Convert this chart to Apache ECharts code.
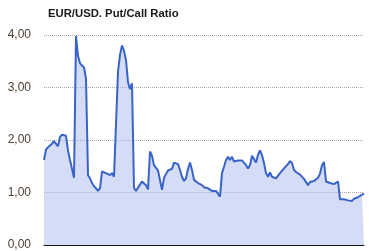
<!DOCTYPE html>
<html><head><meta charset="utf-8">
<script src="https://cdn.jsdelivr.net/npm/echarts@6/dist/echarts.min.js"></script>
<style>html,body{margin:0;padding:0;background:#fff}#c{width:369px;height:251px}</style>
</head><body><div id="c"></div>
<script>
var titleText = "EUR/USD. Put/Call Ratio";
var yTicks = [0, 1, 2, 3, 4];
var ratio = [
1.62,1.82,1.86,1.87,1.93,1.98,2.00,1.88,2.06,2.10,
2.13,2.08,1.80,1.62,1.45,1.28,3.98,3.60,3.46,3.42,
3.38,3.17,1.33,1.27,1.18,1.12,1.08,1.03,1.08,1.40,
1.40,1.37,1.40,1.33,1.37,1.30,1.33,3.30,3.62,3.80,
3.70,3.52,3.10,2.97,3.08,1.09,1.03,1.04,1.15,1.21,
1.21,1.14,1.06,1.78,1.70,1.52,1.47,1.42,1.43,1.05,
1.28,1.35,1.42,1.42,1.45,1.57,1.60,1.54,1.43,1.30,
1.22,1.27,1.45,1.57,1.43,1.24,1.21,1.18,1.16,1.14,
1.10,1.11,1.08,1.06,1.03,1.06,1.03,1.06,0.92,1.37,
1.49,1.62,1.68,1.62,1.68,1.59,1.62,1.61,1.59,1.61,
1.59,1.52,1.46,1.52,1.70,1.72,1.57,1.72,1.80,1.71,
1.56,1.37,1.30,1.38,1.30,1.27,1.27,1.30,1.37,1.40,
1.46,1.50,1.54,1.60,1.56,1.43,1.39,1.37,1.34,1.31,
1.26,1.27,1.14,1.20,1.22,1.22,1.24,1.28,1.36,1.52,
1.58,1.21,1.19,1.18,1.19,1.16,1.18,1.21,0.87,0.88,
0.87,0.88,0.85,0.83,0.84,0.88,0.90,0.91,0.93,0.96,
0.98
];
var categories = ratio.map(function(_, i){ return String(i + 1); });

var chart = echarts.init(document.getElementById('c'), null, {renderer:'canvas'});
chart.setOption({
  animation: false,
  title: {
    text: titleText, left: 43, top: 3,
    textStyle: {fontFamily: 'Liberation Sans, Arial, sans-serif', fontSize: 11.3, fontWeight: 'bold', color: '#1a1a1a'}
  },
  grid: {left: 44, right: 5, top: 35, bottom: 6, containLabel: false},
  xAxis: {
    type: 'category', data: categories, boundaryGap: false,
    axisLine: {show: true, lineStyle: {color: '#111', width: 1}},
    axisTick: {show: false}, axisLabel: {show: false}, splitLine: {show: false}
  },
  yAxis: {
    type: 'value', min: yTicks[0], max: yTicks[yTicks.length - 1], interval: 1,
    axisLine: {show: false}, axisTick: {show: false},
    axisLabel: {
      margin: 13, fontSize: 12, color: '#4d4033',
      fontFamily: 'Liberation Sans, Arial, sans-serif',
      formatter: function(v){ return v.toFixed(2).replace('.', ','); }
    },
    splitLine: {show: true, lineStyle: {type: 'dotted', color: '#b0a0b8', width: 1}}
  },
  series: [{
    type: 'line', data: ratio, symbol: 'none', smooth: false,
    lineStyle: {color: '#3a63c8', width: 2},
    areaStyle: {color: 'rgba(175,188,238,0.75)'},
    z: 2
  }]
});
</script></body></html>
